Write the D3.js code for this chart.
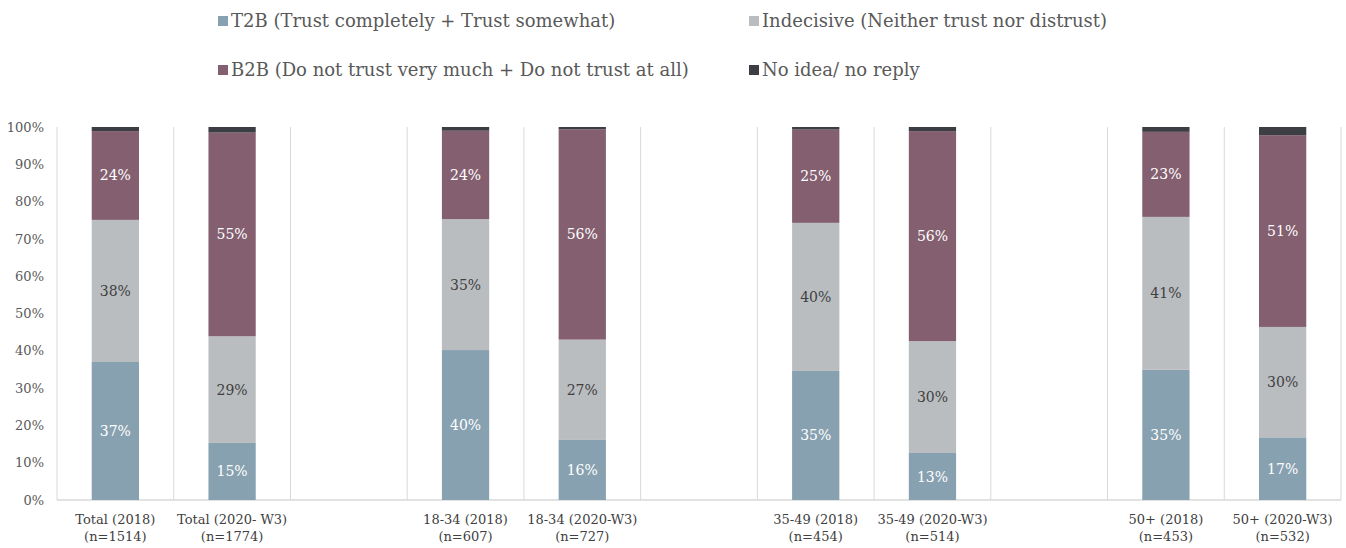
<!DOCTYPE html>
<html>
<head>
<meta charset="utf-8">
<script src="https://cdn.jsdelivr.net/npm/d3@7"></script>
<style>
  body { margin: 0; background: #fff; }
  svg text { font-family: "DejaVu Serif", "Liberation Serif", serif; }
</style>
</head>
<body>
<svg id="chart" width="1346" height="548"></svg>
<script>
// categories (blank slots are the gaps between groups)
var categories = [
    ['Total (2018)', '(n=1514)'],
    ['Total (2020- W3)', '(n=1774)'],
    null,
    ['18-34 (2018)', '(n=607)'],
    ['18-34 (2020-W3)', '(n=727)'],
    null,
    ['35-49 (2018)', '(n=454)'],
    ['35-49 (2020-W3)', '(n=514)'],
    null,
    ['50+ (2018)', '(n=453)'],
    ['50+ (2020-W3)', '(n=532)']
];
var seriesNames = [
    'T2B (Trust completely + Trust somewhat)',
    'Indecisive (Neither trust nor distrust)',
    'B2B (Do not trust very much + Do not trust at all)',
    'No idea/ no reply'
];
var t2b        = [37.0, 15.3, null, 40.2, 16.1, null, 34.6, 12.6, null, 34.9, 16.8];
var indecisive = [38.1, 28.6, null, 35.1, 26.9, null, 39.7, 30.0, null, 41.0, 29.6];
var b2b        = [23.8, 54.6, null, 23.7, 56.4, null, 25.0, 56.3, null, 22.8, 51.4];
var noIdea     = [1.1, 1.5, null, 1.0, 0.6, null, 0.7, 1.1, null, 1.3, 2.2];
var yTicks = [0, 10, 20, 30, 40, 50, 60, 70, 80, 90, 100];

var colors = ['#87a1b0', '#babdc0', '#845f70', '#3c3e43'];
var labelColors = ['#ffffff', '#404040', '#ffffff', null];

var svg = d3.select('#chart');
var x = d3.scaleBand().domain(d3.range(categories.length)).range([57, 1341]).padding(0);
var y = d3.scaleLinear().domain([0, 100]).range([500, 127]);

// vertical separators
var seps = d3.range(categories.length + 1).map(function(i) { return 57 + i * x.step(); });
svg.append('g').selectAll('line').data(seps).enter().append('line')
    .attr('x1', function(d) { return d; }).attr('x2', function(d) { return d; })
    .attr('y1', y(100)).attr('y2', y(0))
    .attr('stroke', '#d9d9d9').attr('stroke-width', 1);

// y axis
var yAxis = d3.axisLeft(y).tickValues(yTicks).tickSize(0).tickPadding(13)
    .tickFormat(function(d) { return d + '%'; });
var yg = svg.append('g').attr('transform', 'translate(57,0)').call(yAxis);
yg.select('.domain').remove();
yg.selectAll('text').attr('font-size', 13).attr('fill', '#595959')
    .style('font-family', '"DejaVu Serif", serif');

// baseline
svg.append('line').attr('x1', 57).attr('x2', 1341).attr('y1', y(0)).attr('y2', y(0))
    .attr('stroke', '#d9d9d9').attr('stroke-width', 1.5);

// stacked bars
var rows = categories.map(function(c, i) {
    return { i: i, vals: [t2b[i], indecisive[i], b2b[i], noIdea[i]] };
}).filter(function(r) { return categories[r.i]; });

var barW = x.bandwidth() * 0.405;
rows.forEach(function(r) {
    var cx = x(r.i) + x.bandwidth() / 2;
    var acc = 0;
    r.vals.forEach(function(v, k) {
        var y0 = acc, y1 = acc + v;
        acc = y1;
        svg.append('rect')
            .attr('x', cx - barW / 2).attr('width', barW)
            .attr('y', y(y1)).attr('height', y(y0) - y(y1))
            .attr('fill', colors[k]);
        if (labelColors[k]) {
            svg.append('text')
                .attr('x', cx).attr('y', y((y0 + y1) / 2) + 5)
                .attr('text-anchor', 'middle').attr('font-size', 14)
                .attr('fill', labelColors[k])
                .text(Math.round(v) + '%');
        }
    });
    // x labels
    categories[r.i].forEach(function(line, j) {
        svg.append('text')
            .attr('x', cx).attr('y', 524 + j * 17)
            .attr('text-anchor', 'middle').attr('font-size', 13)
            .attr('fill', '#404040')
            .text(line);
    });
});

// legend
var legendPos = [[218, 21], [749, 21], [218, 70], [749, 70]];
seriesNames.forEach(function(name, k) {
    var p = legendPos[k];
    svg.append('rect').attr('x', p[0]).attr('y', p[1] - 5).attr('width', 10).attr('height', 10)
        .attr('fill', colors[k]);
    svg.append('text').attr('x', p[0] + 13).attr('y', p[1] + 6)
        .attr('font-size', 18).attr('fill', '#595959').text(name);
});
</script>
</body>
</html>
